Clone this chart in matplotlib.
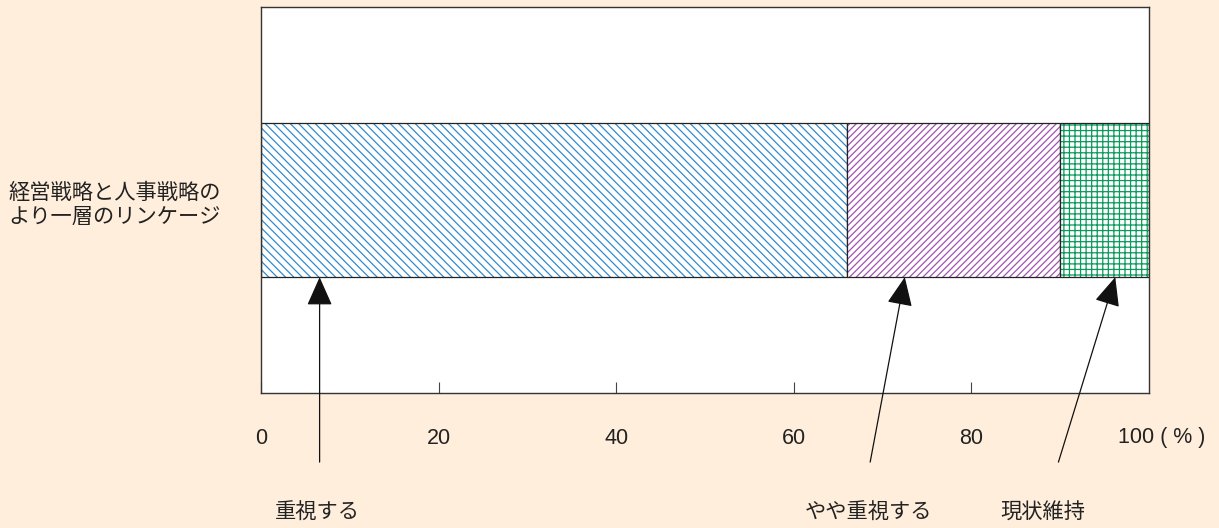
import matplotlib
matplotlib.use("Agg")
import matplotlib.pyplot as plt
from matplotlib.transforms import blended_transform_factory

plt.rcParams['font.family'] = ['Noto Sans CJK JP', 'DejaVu Sans']
plt.rcParams['hatch.linewidth'] = 0.9

# data
category = "経営戦略と人事戦略の\nより一層のリンケージ"
segment_labels = ["重視する", "やや重視する", "現状維持"]
segment_values = [66.0, 24.0, 10.0]
tick_values = [0, 20, 40, 60, 80]

hatch_colors = ["#2f8ad0", "#a24fb2", "#0b9a5c"]
hatches = ["\\\\\\\\", "/////", "+++"]

bg = "#ffeedc"
fig = plt.figure(figsize=(12.19, 5.28), dpi=100, facecolor=bg)
ax = fig.add_axes([261/1219, 1-393/528, 888/1219, 386/528])
ax.set_facecolor("white")

left = 0.0
for val, col, h in zip(segment_values, hatch_colors, hatches):
    ax.barh(0, val, left=left, height=0.4, color="white", edgecolor=col,
            hatch=h, linewidth=0)
    ax.barh(0, val, left=left, height=0.4, color="none", edgecolor="#222222",
            linewidth=0.9)
    left += val

ax.set_xlim(0, 100)
ax.set_ylim(-0.5, 0.5)
ax.set_yticks([])
ax.set_xticks(tick_values)
ax.set_xticklabels([str(v) for v in tick_values], fontsize=15.5,
                   family=["Liberation Sans"], color="#222222")
ax.tick_params(axis="x", direction="in", length=8, width=0.8, pad=25, color="#444444")
trans = blended_transform_factory(ax.transData, ax.transAxes)
ax.text(96.5, -0.114, "100 ( % )", transform=trans, ha="left", va="center",
        fontsize=15.5, family=["Liberation Sans"], color="#222222")
for s in ax.spines.values():
    s.set_color("#333333")
    s.set_linewidth(1.0)

# category label
fig.text(8/1219, 1-205/528, category, ha="left", va="center", fontsize=15.3,
         color="#222222", linespacing=1.1)

# arrows pointing at each segment from the labels below
tips = [6.6, 72.5, 96.2]
tails = [6.6, 68.6, 89.8]
label_x = [317, 868, 1043]
for lab, tip, tail, lx in zip(segment_labels, tips, tails, label_x):
    ax.annotate("", xy=(tip, -0.2), xycoords="data",
                xytext=(tail, -0.179), textcoords=("data", "axes fraction"),
                arrowprops=dict(arrowstyle="-|>,head_length=1.8,head_width=0.8",
                                color="#111111", lw=0.9, shrinkA=0, shrinkB=0),
                annotation_clip=False)
    fig.text(lx/1219, 1-513/528, lab, ha="center", va="center", fontsize=15.3,
             color="#222222")

fig.savefig("out.png", dpi=100, facecolor=bg)
